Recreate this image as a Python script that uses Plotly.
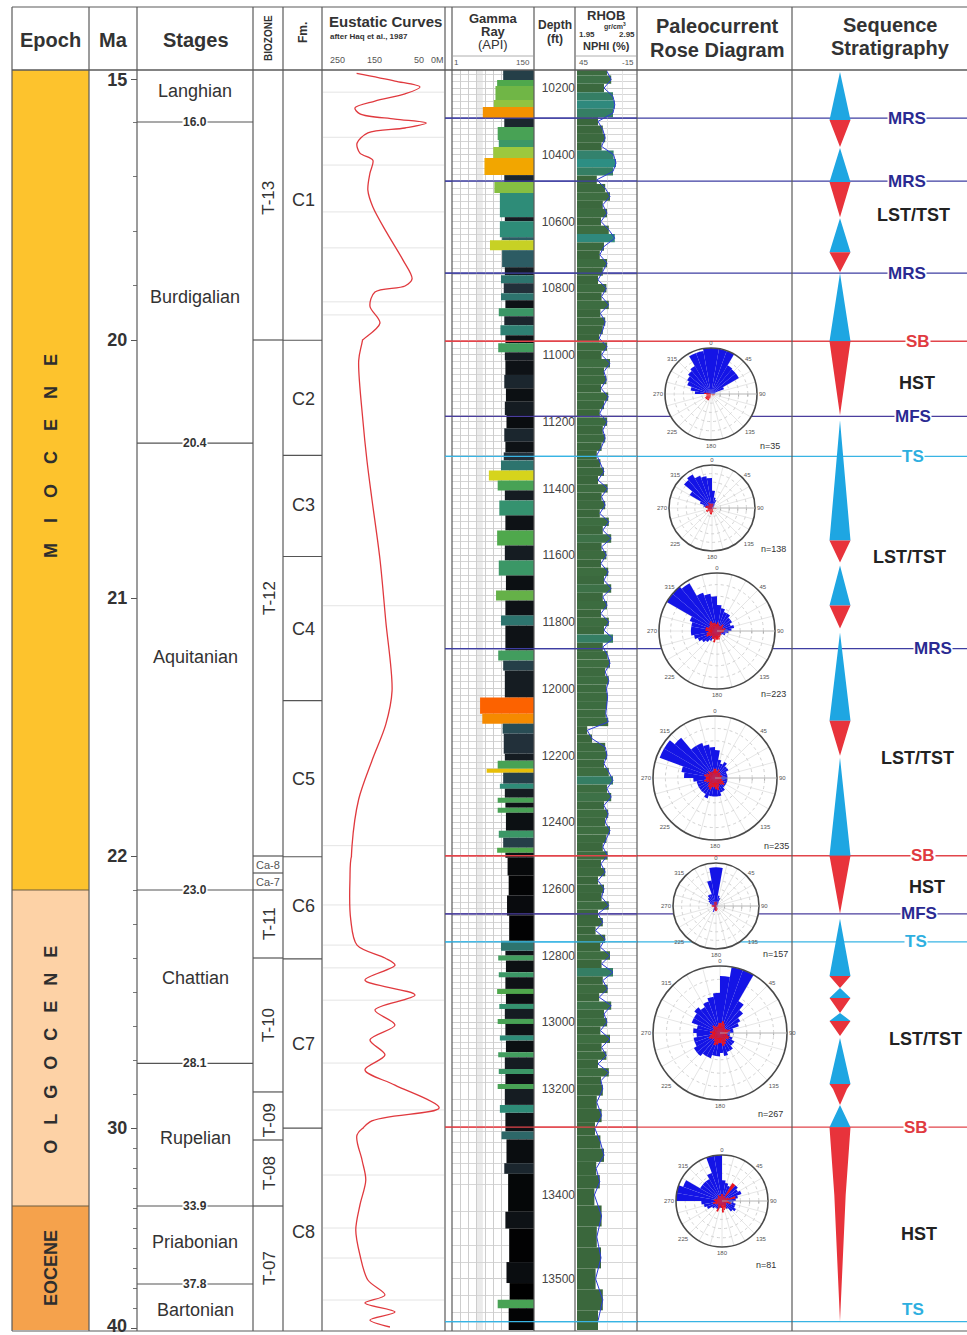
import plotly.graph_objects as go

W, H = 967, 1335
OFF = 0
FONT = "Liberation Sans, Arial, Helvetica, sans-serif"
INK = "#333333"

# ============================ DATA ============================
# time scale (Ma) - the original column is built from several linear pieces
MA_BREAKS = [14.78, 16.0, 20.0, 22.0, 30.0, 40.1]
MA_TICKS = [15, 20, 21, 22, 30, 40]
MA_MINOR = [16, 17, 18, 19, 23, 24, 25, 26, 27, 28, 29,
            31, 32, 33, 34, 35, 36, 37, 38, 39]

# depth scale (ft), also drawn in linear pieces
DEPTH_BREAKS = [10146, 13200, 13400, 13561]
DEPTH_TICKS = [10200, 10400, 10600, 10800, 11000, 11200, 11400, 11600, 11800,
               12000, 12200, 12400, 12600, 12800, 13000, 13200, 13400, 13500]

EPOCH_NAMES = ["MIOCENE", "OLGOCENE", "EOCENE"]
EPOCH_TOP = [14.78, 23.0, 33.9]
EPOCH_BASE = [23.0, 33.9, 40.1]
EPOCH_LABEL_MA = [20.45, 27.7, 37.0]

STAGE_NAMES = ["Langhian", "Burdigalian", "Aquitanian", "Chattian",
               "Rupelian", "Priabonian", "Bartonian"]
STAGE_LABEL_MA = [15.27, 19.21, 21.23, 25.59, 30.5, 35.7, 39.1]
STAGE_BOUNDS = [16.0, 20.4, 23.0, 28.1, 33.9, 37.8]

BIOZONES = ["T-13", "T-12", "Ca-8", "Ca-7", "T-11", "T-10", "T-09", "T-08", "T-07"]
BIO_TOP = [14.78, 20.0, 22.0, 22.5, 23.0, 25.0, 28.94, 30.6, 33.9]
BIO_BASE = [20.0, 22.0, 22.5, 23.0, 25.0, 28.94, 30.6, 33.9, 40.1]

FORMATIONS = ["C1", "C2", "C3", "C4", "C5", "C6", "C7", "C8"]
FM_TOP = [10146, 10956, 11301, 11604, 12036, 12504, 12810, 13274]
FM_BASE = [10956, 11301, 11604, 12036, 12504, 12810, 13274, 13561]
FM_LABEL_DEPTH = [10536, 11133, 11451, 11820, 12270, 12651, 13065, 13444]

# eustatic curve (Haq et al., 1987): age (Ma) and sea level (m)
EUS_MA = [14.86, 15.04, 15.18, 15.34, 15.51, 15.67, 15.81, 15.93, 16.02, 16.11,
          16.20, 16.39, 16.57, 16.70, 16.94, 17.25, 17.56, 18.04, 18.53, 18.88,
          19.01, 19.12, 19.38, 19.69, 20.01, 20.08, 20.31, 20.47, 20.62, 20.85,
          21.09, 21.36, 21.49, 21.63, 21.78, 21.96, 22.71, 23.88, 24.62, 25.0,
          25.21, 25.65, 26.09, 26.53, 26.97, 27.41, 27.85, 28.29, 28.74, 29.41,
          29.82, 30.35, 31.6, 32.6, 33.85, 35.1, 36.35, 37.6, 38.35, 38.75,
          39.2, 39.6, 39.95]
EUS_SL = [193, 101, 41, 77, 149, 197, 185, 101, 26, 77,
          166, 192, 185, 154, 161, 166, 154, 120, 82, 60,
          77, 149, 161, 137, 180, 188, 178, 168, 156, 137,
          123, 108, 123, 156, 188, 204, 209, 207, 192, 125,
          101, 173, 53, 149, 101, 161, 125, 173, 101, -5,
          161, 192, 180, 171, 185, 195, 185, 166, 125, 173,
          101, 161, 113]
EUS_GRID_MA = [15.30, 16.28, 16.79, 17.65, 18.31, 19.30, 19.54, 21.03, 21.96,
               23.44, 24.62, 25.29, 26.24, 28.09, 29.47, 32.35, 35.0, 36.5, 38.6]

# gamma ray log: interval tops (ft) and API value
GR_TOP = [10146, 10176, 10194, 10236, 10257, 10290, 10317, 10356, 10377, 10410,
          10461, 10482, 10515, 10587, 10599, 10647, 10656, 10686, 10737, 10761,
          10785, 10815, 10836, 10860, 10884, 10911, 10941, 10965, 10992, 11016,
          11060, 11100, 11140, 11180, 11220, 11260, 11292, 11316, 11346, 11376,
          11406, 11436, 11481, 11526, 11571, 11616, 11661, 11706, 11736, 11781,
          11811, 11886, 11916, 11946, 12027, 12075, 12105, 12135, 12195, 12216,
          12240, 12252, 12285, 12300, 12327, 12342, 12357, 12372, 12426, 12447,
          12477, 12492, 12507, 12560, 12620, 12680, 12756, 12786, 12800, 12815,
          12850, 12865, 12900, 12915, 12945, 12960, 12990, 13005, 13040, 13055,
          13090, 13105, 13140, 13155, 13185, 13200, 13230, 13245, 13280, 13295,
          13340, 13360, 13420, 13440, 13480, 13505, 13525, 13535]
GR_API = [94, 83, 80, 77, 57, 96, 84, 86, 76, 60,
          96, 78, 88, 97, 88, 92, 70, 92, 97, 90,
          95, 90, 98, 86, 96, 89, 98, 85, 97, 98,
          96, 99, 97, 100, 96, 98, 95, 90, 68, 84,
          97, 87, 98, 83, 97, 86, 99, 81, 98, 90,
          98, 85, 94, 97, 52, 56, 93, 95, 97, 84,
          64, 94, 88, 97, 84, 98, 84, 99, 86, 94,
          83, 98, 102, 104, 101, 105, 90, 98, 85, 99,
          86, 98, 83, 99, 87, 97, 84, 98, 88, 99,
          85, 97, 86, 98, 84, 97, 88, 98, 91, 100,
          96, 103, 98, 105, 100, 106, 84, 104]
GR_LOG_BASE = 13561

# bulk density log, sampled every 25 ft from 10150 ft
RHOB_START, RHOB_STEP = 10150, 25
RHOB = [2.45, 2.52, 2.40, 2.55, 2.58, 2.55, 2.30, 2.38, 2.42, 2.36,
        2.56, 2.60, 2.55, 2.28, 2.42, 2.50, 2.38, 2.45, 2.35, 2.48,
        2.58, 2.40, 2.33, 2.45, 2.38, 2.30, 2.44, 2.36, 2.48, 2.34,
        2.42, 2.38, 2.32, 2.45, 2.36, 2.50, 2.40, 2.44, 2.35, 2.47,
        2.40, 2.33, 2.45, 2.38, 2.42, 2.36, 2.28, 2.34, 2.40, 2.30,
        2.46, 2.36, 2.42, 2.33, 2.48, 2.38, 2.52, 2.36, 2.44, 2.35,
        2.47, 2.40, 2.52, 2.38, 2.45, 2.35, 2.48, 2.40, 2.55, 2.38,
        2.46, 2.50, 2.42, 2.48, 2.44, 2.46, 2.45, 2.43, 2.47, 2.12,
        2.20, 2.42, 2.45, 2.40, 2.48, 2.55, 2.45, 2.52, 2.40, 2.47,
        2.42, 2.50, 2.44, 2.38, 2.46, 2.35, 2.42, 2.30, 2.40, 2.36,
        2.48, 2.30, 2.38, 2.26, 2.42, 2.34, 2.50, 2.36, 2.55, 2.38,
        2.46, 2.32, 2.52, 2.40, 2.45, 2.34, 2.50, 2.36, 2.44, 2.30,
        2.48, 2.35, 2.38, 2.28, 2.36, 2.25, 2.34, 2.40, 2.27, 2.33,
        2.24, 2.36, 2.28, 2.35, 2.26, 2.38, 2.30]

# sequence-stratigraphic surfaces (ft)
SURF_NAMES = ["MRS", "MRS", "MRS", "SB", "MFS", "TS", "MRS", "SB", "MFS", "TS", "SB", "TS"]
SURF_DEPTH = [10290, 10479, 10755, 10959, 11184, 11304, 11880, 12501, 12675, 12759, 13272, 13551]

# trend triangles: 'up' = blue (transgressive), 'down' = red (regressive)
TRI_KIND = ["up", "down", "up", "down", "up", "down", "up", "down", "up", "down",
            "up", "down", "up", "down", "up", "down", "up", "down", "up", "down",
            "up", "down", "up", "down", "up", "down"]
TRI_TOP = [10152, 10296, 10380, 10482, 10590, 10692, 10755, 10959, 11196, 11556,
           11631, 11751, 11832, 12096, 12207, 12501, 12690, 12861, 12897, 12927,
           12972, 12996, 13047, 13185, 13230, 13272]
TRI_BASE = [10296, 10377, 10482, 10587, 10692, 10752, 10959, 11181, 11556, 11622,
            11751, 11820, 12096, 12201, 12501, 12675, 12861, 12897, 12927, 12972,
            12996, 13041, 13185, 13230, 13272, 13551]

TRACT_NAMES = ["LST/TST", "HST", "LST/TST", "LST/TST", "HST", "LST/TST", "HST"]
TRACT_DEPTH = [10581, 11085, 11607, 12207, 12594, 13050, 13446]

# paleocurrent rose diagrams (10 degree bins, relative frequency 0-10)
ROSE_N = [35, 138, 223, 235, 157, 267, 81]
ROSE_BINS = [5, 15, 25, 35, 45, 55, 65, 75, 85, 95, 105, 115, 125, 135, 145, 155, 165, 175,
             185, 195, 205, 215, 225, 235, 245, 255, 265, 275, 285, 295, 305, 315, 325, 335, 345, 355]
ROSE_BLUE_1 = [10, 10, 10, 7.2, 7, 7, 3, 1, 0.8, 0, 0, 0, 0, 0, 0, 0, 0, 0,
               0, 0, 0, 0, 0, 0, 0, 0, 0, 3.5, 4.5, 5.5, 6, 6.5, 7, 9.5, 9.5, 10]
ROSE_BLUE_2 = [4, 2.5, 2, 1, 0.5, 0.5, 0.5, 0.3, 0.3, 0.3, 0.3, 0.3, 0.3, 0.3, 0.3, 0.3, 0.3, 0.3,
               0.3, 0.3, 0.3, 0.3, 0.3, 0.5, 0.5, 0.8, 1, 1.5, 2, 3, 6, 8.5, 9, 8, 7.5, 7]
ROSE_BLUE_3 = [4.5, 4, 3.5, 3.5, 3, 3, 2.5, 3, 2.5, 2, 1.5, 1.5, 1, 0.8, 0.8, 1, 0.8, 1,
               1, 1.2, 1.5, 2, 2.5, 3, 3.5, 4, 4.5, 4.5, 4.5, 5, 10, 10, 9.5, 7, 6.5, 6]
ROSE_BLUE_4 = [4.5, 3, 2.5, 3, 2.5, 2.5, 2, 2, 2, 2, 2, 2, 2, 2, 2.5, 2.5, 3, 3,
               3, 3, 3.5, 3, 3, 3, 3, 3, 3.5, 5, 5.5, 9.5, 9.5, 8.5, 6, 6, 5.5, 5]
ROSE_BLUE_5 = [9, 2.5, 2, 1, 0.5, 0.5, 0.3, 0.3, 0.3, 0.3, 0.3, 0.3, 0.3, 0.3, 0.3, 0.3, 0.3, 0.5,
               1, 1, 1.5, 1, 0.5, 0.5, 0.5, 0.5, 0.5, 0.5, 1, 1.5, 2, 2.5, 3, 3, 6, 9]
ROSE_BLUE_6 = [8.5, 10, 10, 5.5, 4.5, 3.5, 3, 2, 2, 1.5, 1.5, 2, 2.5, 2.5, 3, 3, 3.5, 3,
               3.5, 3.5, 4, 4, 4.5, 4.5, 4, 4, 3.5, 4, 3.5, 4.5, 4.5, 5, 4.5, 5, 5.5, 6]
ROSE_BLUE_7 = [4.5, 4, 3.5, 4, 4.5, 4, 4.5, 3.5, 3, 2.5, 3, 3, 3.5, 3, 2, 1.5, 1, 1,
               1.5, 1.5, 2, 2, 2, 2.5, 3.5, 4, 4.5, 10, 10, 9, 5.5, 5.5, 5.5, 6.5, 10, 10]
ROSE_RED_1 = [0, 0, 0, 0, 0, 0, 0, 0, 0, 0.8, 0.8, 0.6, 0.5, 0, 0, 0, 0, 0,
              0, 1.0, 1.5, 1.5, 1.5, 1.5, 1.2, 1.0, 1.0, 1.5, 1.0, 0.5, 0, 0, 0, 0, 0, 0]
ROSE_RED_2 = [1, 1, 0.5, 0, 0, 0, 0, 0, 0.5, 1, 0.5, 0, 0, 0, 0, 0.5, 1, 1,
              1.5, 1.5, 1.2, 1, 1, 1.5, 1.5, 1, 1, 1.5, 1.5, 1.2, 1, 1, 1.5, 1.2, 1, 1]
ROSE_RED_3 = [1.5, 1.2, 1, 1, 1.5, 1.2, 1, 1.5, 1.2, 1.2, 1, 0.8, 0.8, 1, 1, 1.2, 1.5, 1.5,
              1.5, 2, 1.5, 1.5, 1.2, 1.5, 2, 1.8, 1.5, 2, 2, 1.5, 1.5, 1.8, 2, 1.5, 1.5, 1.2]
ROSE_RED_4 = [1.5, 1.2, 1.5, 1, 1.2, 1, 1, 1.2, 1, 1, 1.2, 1.5, 1.8, 1.5, 1.2, 1.5, 2, 1.8,
              1.5, 1.5, 2, 1.8, 1.5, 1.2, 1.5, 1.8, 1.5, 1.5, 1.8, 1.5, 1.2, 1.5, 1.2, 1, 1.2, 1.5]
ROSE_RED_5 = [1, 0.8, 0.5, 0.5, 0, 0, 0, 0, 0.5, 0.5, 0, 0, 0, 0, 0.5, 0.8, 1, 1.2,
              1.2, 1, 0.8, 0.5, 0.5, 0.5, 0.5, 0.8, 1, 1, 0.8, 0.5, 0.5, 0.5, 0.8, 1, 1, 1]
ROSE_RED_6 = [1.5, 1.8, 1.5, 1.2, 1, 1, 1.2, 1.5, 1.2, 1, 1.2, 1.5, 1.5, 1.2, 1.5, 1.8, 2, 1.5,
              1.5, 1.8, 2, 1.5, 1.2, 1.5, 1.8, 1.5, 1.2, 1.5, 1.2, 1, 1.2, 1.5, 1.2, 1, 1.2, 1.5]
ROSE_RED_7 = [1.5, 1.2, 1, 4.5, 1, 1, 1.5, 3, 1.2, 1.5, 2, 1, 1, 1.2, 1.5, 1.8, 2, 2.5,
              1.5, 1.2, 2.5, 1.5, 1.2, 1, 1.5, 2, 1.5, 1.8, 1.5, 1.2, 1, 1.2, 1.5, 1.2, 1, 1.5]
ROSE_BLUE = [ROSE_BLUE_1, ROSE_BLUE_2, ROSE_BLUE_3, ROSE_BLUE_4, ROSE_BLUE_5, ROSE_BLUE_6, ROSE_BLUE_7]
ROSE_RED = [ROSE_RED_1, ROSE_RED_2, ROSE_RED_3, ROSE_RED_4, ROSE_RED_5, ROSE_RED_6, ROSE_RED_7]

# ============================ LAYOUT CONSTANTS (pixels) ============================
MA_SEG_PX = [70, 122, 340, 856, 1128, 1330]
DEPTH_SEG_PX = [70, 1089, 1195, 1330]
COL_LINES = [12, 89, 137, 253, 283, 322, 445, 452, 534, 575, 637, 792]
ROSE_GEOM = [(711, 394, 46), (712, 508, 43), (717, 631, 58), (715, 778, 62),
             (716, 906, 43), (720, 1033, 67), (722, 1201, 46)]
ROSE_NLABEL = [(770, 446), (773, 549), (773, 694), (776, 846), (775, 954), (770, 1114), (766, 1265)]
SURF_LABEL_X = [907, 907, 907, 918, 913, 913, 933, 923, 919, 916, 916, 913]
TRACT_X = [913, 917, 909, 917, 927, 925, 919]
EPOCH_COLORS = ["#FDC32D", "#FDD2A6", "#F5A24C"]
EPOCH_GAPS = [4, 3, 0]
SURF_COLORS = {"MRS": "#3E3EA2", "MFS": "#4A3E9E", "SB": "#E2454B", "TS": "#38B4E4"}
SURF_TEXT = {"MRS": "#2A2A92", "MFS": "#2A2A92", "SB": "#E03A40", "TS": "#2EAFE0"}
SEQ_C, SEQ_HW = 48, 10.5

shapes, annos, traces = [], [], []


def fx(x):
    return (x - OFF) / W


def fy(y):
    return 1 - (y - OFF) / H


def segs_overlap(breaks, a, b):
    out = []
    for i in range(len(breaks) - 1):
        s, e = max(a, breaks[i]), min(b, breaks[i + 1])
        if e > s:
            out.append((i, s, e))
    return out


def segs_at(breaks, v):
    return [i for i in range(len(breaks) - 1) if breaks[i] <= v <= breaks[i + 1]]


def MA_AX(i):
    return "y%d" % (2 + i)


def DP_AX(i):
    return "y%d" % (7 + i)


def SQ_AX(i):
    return "y%d" % (10 + i)


def hline(yref, v, x0, x1, color, width=1.2, layer="above"):
    shapes.append(dict(type="line", xref="paper", yref=yref, x0=fx(x0), x1=fx(x1), y0=v, y1=v,
                       line=dict(color=color, width=width), layer=layer))


def ma_hline(v, x0, x1, color, width=1.2, layer="above"):
    for i in segs_at(MA_BREAKS, v):
        hline(MA_AX(i), v, x0, x1, color, width, layer)


def dp_hline(v, x0, x1, color, width=1.2, layer="above"):
    for i in segs_at(DEPTH_BREAKS, v):
        hline(DP_AX(i), v, x0, x1, color, width, layer)


def ma_rect(a, b, x0, x1, fill):
    for i, s, e in segs_overlap(MA_BREAKS, a, b):
        shapes.append(dict(type="rect", xref="paper", yref=MA_AX(i), x0=fx(x0), x1=fx(x1),
                           y0=s, y1=e, fillcolor=fill, line=dict(width=0), layer="below"))


def note(x, y, text, size, color=INK, bold=False, angle=0, yref="paper", xanchor="center", **kw):
    annos.append(dict(x=fx(x), y=(fy(y) if yref == "paper" else y), xref="paper", yref=yref,
                      text=("<b>%s</b>" % text) if bold else text, showarrow=False,
                      textangle=angle, xanchor=xanchor, yanchor="middle",
                      font=dict(family=FONT, size=size, color=color), **kw))


def ma_note(x, v, text, size, **kw):
    note(x, v, text, size, yref=MA_AX(segs_at(MA_BREAKS, v)[0]), **kw)


def dp_note(x, d, text, size, **kw):
    note(x, d, text, size, yref=DP_AX(segs_at(DEPTH_BREAKS, d)[0]), **kw)


# ---------------- column frame ----------------
for x in COL_LINES:
    shapes.append(dict(type="line", xref="paper", yref="paper", x0=fx(x), x1=fx(x), y0=fy(7), y1=fy(1331),
                       line=dict(color="#5a5a5a", width=1.2), layer="above"))
for y, wd in [(7, 1.2), (70, 1.6), (1331, 1.2)]:
    shapes.append(dict(type="line", xref="paper", yref="paper", x0=fx(12), x1=fx(967), y0=fy(y), y1=fy(y),
                       line=dict(color="#5a5a5a", width=wd), layer="above"))
for x0, x1 in [(452, 534), (575, 637)]:
    shapes.append(dict(type="line", xref="paper", yref="paper", x0=fx(x0), x1=fx(x1), y0=fy(56), y1=fy(56),
                       line=dict(color="#9a9a9a", width=0.8), layer="above"))

# ---------------- headers ----------------
note(50, 40, "Epoch", 20, bold=True)
note(113, 40, "Ma", 20, bold=True)
note(196, 40, "Stages", 20, bold=True)
note(268, 38, "BIOZONE", 10, bold=True, angle=-90)
note(303, 33, "Fm.", 12, bold=True, angle=-90)
note(327, 22, "Eustatic Curves", 15, bold=True, xanchor="left")
note(328, 37, "after Haq et al., 1987", 8, bold=True, xanchor="left")
for x, t in [(337, "250"), (374, "150"), (419, "50"), (437, "0M")]:
    note(x, 60, t, 9, color="#555")
note(493, 18, "Gamma", 13, bold=True)
note(493, 31, "Ray", 13, bold=True)
note(493, 44, "(API)", 13)
note(456, 63, "1", 8, color="#555")
note(523, 63, "150", 8, color="#555")
note(555, 25, "Depth", 12, bold=True)
note(555, 39, "(ft)", 12, bold=True)
note(606, 15, "RHOB", 13, bold=True)
note(615, 26, "gr/cm<sup>3</sup>", 7, bold=True)
note(587, 35, "1.95", 8, bold=True)
note(627, 35, "2.95", 8, bold=True)
note(606, 46, "NPHI (%)", 11, bold=True)
note(583, 63, "45", 8, color="#555")
note(628, 63, "-15", 8, color="#555")
note(717, 26, "Paleocurrent", 20, bold=True)
note(717, 50, "Rose Diagram", 20, bold=True)
note(890, 25, "Sequence", 20, bold=True)
note(890, 48, "Stratigraphy", 20, bold=True)

# ---------------- epochs ----------------
for name, top, base, col, lab, gap in zip(EPOCH_NAMES, EPOCH_TOP, EPOCH_BASE, EPOCH_COLORS,
                                          EPOCH_LABEL_MA, EPOCH_GAPS):
    ma_rect(top, base, 12, 89, col)
    txt = ("\u00a0" * gap).join(list(name)) if gap else name
    ma_note(51, lab, txt, 18, bold=True, angle=-90, color="#2e2e2e")
for v in EPOCH_BASE[:-1]:
    ma_hline(v, 12, 89, "#6d5c40", 1.2)

# ---------------- stages ----------------
for v in STAGE_BOUNDS:
    ma_hline(v, 137, 253, "#555555", 1.2)
    ma_note(195, v, "%.1f" % v, 12, bold=True, bgcolor="white", borderpad=0)
for name, v in zip(STAGE_NAMES, STAGE_LABEL_MA):
    ma_note(195, v, name, 18)

# ---------------- biozones ----------------
for v in BIO_TOP[1:]:
    ma_hline(v, 253, 283, "#555555", 1.2)
for name, a, b in zip(BIOZONES, BIO_TOP, BIO_BASE):
    if name.startswith("Ca"):
        ma_note(268, (a + b) / 2, name, 11, color="#555")
    else:
        ma_note(269, (a + b) / 2, name, 17, angle=-90)

# ---------------- formations ----------------
for d in FM_TOP[1:]:
    dp_hline(d, 283, 322, "#555555", 1.2)
for name, d in zip(FORMATIONS, FM_LABEL_DEPTH):
    dp_note(303, d, name, 18)

# ---------------- eustatic curve ----------------
for v in EUS_GRID_MA:
    ma_hline(v, 323, 444, "#e4e4e4", 1.0, layer="below")
for i in range(5):
    traces.append(go.Scatter(x=EUS_SL, y=EUS_MA, xaxis="x2", yaxis=MA_AX(i), mode="lines",
                             line=dict(color="#E0393E", width=1.3, shape="spline", smoothing=0.9),
                             hoverinfo="skip"))

# ---------------- gamma ray ----------------
gr_bot = GR_TOP[1:] + [GR_LOG_BASE]
gr_mid = [(a + b) / 2 for a, b in zip(GR_TOP, gr_bot)]
gr_thk = [b - a for a, b in zip(GR_TOP, gr_bot)]
gr_len = [150 - g for g in GR_API]
GR_CS = [[0.0, "#FF4E00"], [0.107, "#F58A00"], [0.214, "#F0B400"], [0.321, "#D6D41C"],
         [0.464, "#9CC83E"], [0.589, "#4FA84C"], [0.679, "#2E8C78"], [0.75, "#2C5B63"],
         [0.804, "#22303A"], [0.857, "#0E1216"], [1.0, "#000000"]]
shapes.append(dict(type="rect", xref="x3", yref="paper", x0=46, x1=57, y0=fy(1330), y1=fy(70),
                   fillcolor="#ebebeb", line=dict(width=0), layer="below"))
for j in range(3):
    traces.append(go.Bar(orientation="h", y=gr_mid, x=gr_len, base=GR_API, width=gr_thk,
                         xaxis="x3", yaxis=DP_AX(j), hoverinfo="skip",
                         marker=dict(color=GR_API, colorscale=GR_CS, cmin=50, cmax=106,
                                     line=dict(width=0))))

# ---------------- density ----------------
rhob_depth = [RHOB_START + RHOB_STEP * k for k in range(len(RHOB))]
RH_CS = [[0.0, "#3A673C"], [0.55, "#3E6F42"], [0.75, "#2F887C"], [1.0, "#2A9A92"]]
for j in range(3):
    traces.append(go.Bar(orientation="h", y=rhob_depth, x=[r - 1.95 for r in RHOB], base=1.95,
                         width=RHOB_STEP, xaxis="x4", yaxis=DP_AX(j), hoverinfo="skip",
                         marker=dict(color=RHOB, colorscale=RH_CS, cmin=2.35, cmax=2.65,
                                     line=dict(width=0))))
    traces.append(go.Scatter(x=RHOB, y=rhob_depth, xaxis="x4", yaxis=DP_AX(j), mode="lines",
                             line=dict(color="#2B3BD6", width=1), hoverinfo="skip"))

# ---------------- surfaces ----------------
for name, d, lx in zip(SURF_NAMES, SURF_DEPTH, SURF_LABEL_X):
    dp_hline(d, 445, 967, SURF_COLORS[name], 1.3, layer="below")
    dp_hline(d, 445, 637, SURF_COLORS[name], 1.3, layer="above")
    extra = dict(yshift=12) if d == SURF_DEPTH[-1] else dict(bgcolor="white", borderpad=0)
    dp_note(lx, d, name, 17, bold=True, color=SURF_TEXT[name], **extra)
for name, d, lx in zip(TRACT_NAMES, TRACT_DEPTH, TRACT_X):
    dp_note(lx, d, name, 18, bold=True, color="#222222")

# ---------------- trend triangles ----------------
for kind, col in [("up", "#1EA6E2"), ("down", "#E8333B")]:
    xs, ys = [], []
    for t, b, k in zip(TRI_TOP, TRI_BASE, TRI_KIND):
        if k != kind:
            continue
        if k == "up":
            pts = [(SEQ_C, t), (SEQ_C + SEQ_HW, b), (SEQ_C - SEQ_HW, b), (SEQ_C, t)]
        else:
            pts = [(SEQ_C - SEQ_HW, t), (SEQ_C + SEQ_HW, t), (SEQ_C, b), (SEQ_C - SEQ_HW, t)]
        xs += [p[0] for p in pts] + [None]
        ys += [p[1] for p in pts] + [None]
    for j in range(3):
        traces.append(go.Scatter(x=xs, y=ys, xaxis="x5", yaxis=SQ_AX(j), mode="lines",
                                 fill="toself", fillcolor=col, line=dict(width=0, color=col),
                                 hoverinfo="skip"))

# ---------------- rose diagrams ----------------
polars = {}
ang_vals = list(range(0, 360, 15))
for k, ((cx, cy, r), n, blue, red, (nx, ny)) in enumerate(zip(ROSE_GEOM, ROSE_N, ROSE_BLUE, ROSE_RED, ROSE_NLABEL)):
    pid = "polar" if k == 0 else "polar%d" % (k + 1)
    polars[pid] = dict(
        domain=dict(x=[fx(cx - r), fx(cx + r)], y=[fy(cy + r), fy(cy - r)]),
        bgcolor="white", barmode="overlay",
        angularaxis=dict(rotation=90, direction="clockwise", tickmode="array", tickvals=ang_vals,
                         ticktext=[str(v) if v % 45 == 0 else "" for v in ang_vals],
                         tickfont=dict(size=6, color="#555", family=FONT), ticks="",
                         showline=True, linecolor="#4a4a4a", linewidth=1.6,
                         gridcolor="#e6e6e6", gridwidth=0.6),
        radialaxis=dict(range=[0, 10], angle=0, showticklabels=False, ticks="outside", ticklen=2,
                        tickcolor="#aaa", tickvals=[2, 4, 6, 8], showline=True, linecolor="#b4b4b4",
                        linewidth=0.8, gridcolor="#d2d2d2", gridwidth=0.6, griddash="dot"))
    traces.append(go.Barpolar(r=blue, theta=ROSE_BINS, width=[10] * len(ROSE_BINS), subplot=pid,
                              marker=dict(color="#1414E6", line=dict(width=0)), hoverinfo="skip"))
    traces.append(go.Barpolar(r=red, theta=ROSE_BINS, width=[10] * len(ROSE_BINS), subplot=pid,
                              marker=dict(color="#E8141E", line=dict(width=0)), hoverinfo="skip"))
    note(nx, ny, "n=%d" % n, 9, color="#333")

# ============================ AXES ============================
axes = {}
axes["xaxis"] = dict(visible=False, domain=[0, 1], range=[0, 1], automargin=False)
axes["yaxis"] = dict(visible=False, domain=[0, 1], range=[0, 1], automargin=False)
axes["xaxis2"] = dict(domain=[fx(322), fx(445)], range=[276, -19], visible=False, anchor="y2",
                      automargin=False)
axes["xaxis3"] = dict(domain=[fx(452), fx(534)], range=[1, 150], anchor="y7", showticklabels=False,
                      ticks="", showline=False, zeroline=False, showgrid=True, gridcolor="#cdcdcd",
                      gridwidth=0.7, tick0=1, dtick=15, automargin=False)
axes["xaxis4"] = dict(domain=[fx(577), fx(637)], range=[1.95, 2.95], anchor="y7", showticklabels=False,
                      ticks="", showline=False, zeroline=False, showgrid=True, gridcolor="#e4e4e4",
                      gridwidth=0.6, tick0=1.95, dtick=0.25, automargin=False)
axes["xaxis5"] = dict(domain=[fx(792), fx(967)], range=[0, 175], visible=False, anchor="y10",
                      automargin=False)

used = set()
used_minor = set()
for i in range(5):
    lo, hi = MA_BREAKS[i], MA_BREAKS[i + 1]
    tv = [t for t in MA_TICKS if lo <= t <= hi and t not in used]
    used.update(tv)
    mv = [t for t in MA_MINOR if lo <= t <= hi and t not in used_minor]
    used_minor.update(mv)
    # the lowest label sits on the page edge, where the axis would drop it: write it as a note
    tt = []
    for t in tv:
        if t == MA_TICKS[-1]:
            tt.append("")
            note(129, t, str(t), 18, bold=True, yref=MA_AX(i), xanchor="right", yshift=2)
        else:
            tt.append(str(t))
    axes["yaxis%d" % (2 + i)] = dict(
        domain=[fy(MA_SEG_PX[i + 1]), fy(MA_SEG_PX[i])], range=[hi, lo], anchor="free",
        position=fx(137), side="left", tickmode="array", tickvals=tv, ticktext=tt,
        ticks="outside", ticklen=6, tickwidth=1.2, tickcolor="#555", automargin=False,
        tickfont=dict(family=FONT, size=18, color=INK, weight="bold"),
        showgrid=False, zeroline=False, showline=False,
        minor=dict(tickmode="array", tickvals=mv, ticks="outside", ticklen=4, tickcolor="#777",
                   showgrid=False))

used = set()
for j in range(3):
    lo, hi = DEPTH_BREAKS[j], DEPTH_BREAKS[j + 1]
    tv = [t for t in DEPTH_TICKS if lo <= t <= hi and t not in used]
    used.update(tv)
    dom = [fy(DEPTH_SEG_PX[j + 1]), fy(DEPTH_SEG_PX[j])]
    axes["yaxis%d" % (7 + j)] = dict(
        domain=dom, range=[hi, lo], anchor="free", position=fx(575), side="left",
        tickmode="array", tickvals=tv, ticktext=[str(t) for t in tv], ticks="", automargin=False,
        tickfont=dict(family=FONT, size=12, color="#444"),
        showgrid=True, gridcolor="#cfcfcf", gridwidth=0.7, zeroline=False, showline=False,
        minor=dict(tickmode="linear", tick0=0, dtick=20, showgrid=True, gridcolor="#d6d6d6",
                   gridwidth=0.6, ticks=""))
    axes["yaxis%d" % (10 + j)] = dict(domain=dom, range=[hi, lo], visible=False, anchor="x5",
                                      automargin=False)

fig = go.Figure(data=traces)
fig.update_layout(
    width=W, height=H, autosize=False, margin=dict(l=0, r=0, t=0, b=0, pad=0, autoexpand=False),
    paper_bgcolor="white", plot_bgcolor="rgba(0,0,0,0)", showlegend=False,
    barmode="overlay", font=dict(family=FONT, color=INK),
    shapes=shapes, annotations=annos, **axes, **polars)
# remove the browser's default 8 px page margin so the figure sits at the page origin
fig.write_html("out.html", config={"displayModeBar": False},
               post_script="document.body.style.margin='0px';"
                           "document.documentElement.style.overflow='hidden';")
